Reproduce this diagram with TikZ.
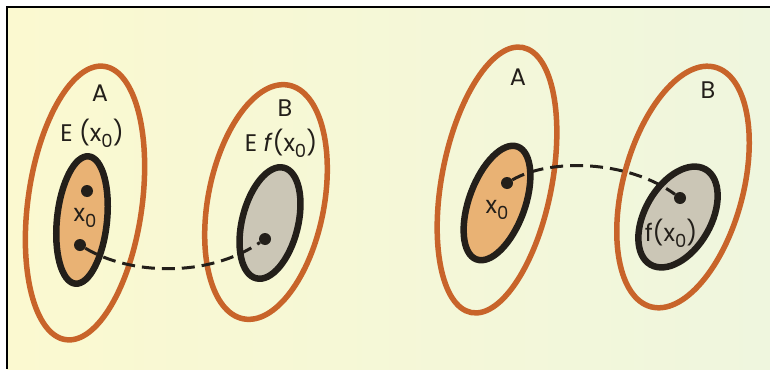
\documentclass[tikz,border=0pt]{standalone}
\usepackage{fontspec}
\setmainfont{Poppins}
\definecolor{ring}{HTML}{C8642A}
\definecolor{orangefill}{HTML}{E9B274}
\definecolor{greyfill}{HTML}{CBC6B6}
\definecolor{ink}{HTML}{231F1A}
\definecolor{bgL}{HTML}{FBF9D0}
\definecolor{bgR}{HTML}{EFF6DE}
\newcommand{\xo}{x\raisebox{-0.45ex}{\fontsize{18}{19}\selectfont 0}}
\begin{document}
\begin{tikzpicture}[x=1pt,y=-1pt,
  outer/.style={draw=ring, line width=5.5pt},
  innerO/.style={draw=ink, fill=orangefill, line width=6.5pt},
  innerG/.style={draw=ink, fill=greyfill, line width=6.5pt},
  dot/.style={circle, fill=ink, inner sep=0pt, minimum size=12pt},
  lbl/.style={text=ink, font=\fontsize{24}{26}\selectfont, inner sep=0pt},
  link/.style={draw=ink, line width=3pt, dash pattern=on 13pt off 7pt}]
\useasboundingbox (0,0) rectangle (770,369);
\fill[white] (0,0) rectangle (770,369);
\shade[left color=bgL, right color=bgR] (7,7) rectangle (770,369);
\draw[black, line width=2pt] (7,369) -- (7,7) -- (770,7);
% left panel
\draw[outer, rotate around={-8:(85,203)}] (85,203) ellipse [x radius=57, y radius=138];
\draw[innerO, rotate around={-6:(82,220)}] (82,220) ellipse [x radius=25, y radius=64];
\draw[outer, rotate around={-11:(266,202)}] (266,202) ellipse [x radius=58, y radius=119];
\draw[innerG, rotate around={-14:(270,223)}] (270,223) ellipse [x radius=28, y radius=57];
\node[dot] (a1) at (87,191) {};
\node[dot] (a2) at (80,245) {};
\node[dot] (b1) at (265,239) {};
\draw[link] (a2) .. controls (130,275) and (208,278) .. (b1);
\node[lbl] (lA) at (100,93) {A};
\node[lbl] (lEA) at (92,133) {E (\xo)};
\node[lbl] (lx) at (85,218) {\xo};
\node[lbl] (lB) at (285,108) {B};
\node[lbl] (lEB) at (281,143) {E \textit{f}(\xo)};
% right panel
\draw[outer, rotate around={-11:(497,180)}] (497,180) ellipse [x radius=55, y radius=135];
\draw[innerO, rotate around={-20:(497,203)}] (497,203) ellipse [x radius=28, y radius=60];
\draw[outer, rotate around={-15:(683,187)}] (683,187) ellipse [x radius=60, y radius=124];
\draw[innerG, rotate around={-30:(678,217)}] (678,217) ellipse [x radius=33, y radius=55];
\node[dot] (c1) at (507,183) {};
\node[dot] (d1) at (680,198) {};
\draw[link] (c1) .. controls (550,158) and (628,160) .. (d1);
\node[lbl] (rA) at (518,77) {A};
\node[lbl] (rB) at (708,90) {B};
\node[lbl] (rx) at (497,210) {\xo};
\node[lbl] (rf) at (671,233) {f(\xo)};
\end{tikzpicture}
\end{document}
